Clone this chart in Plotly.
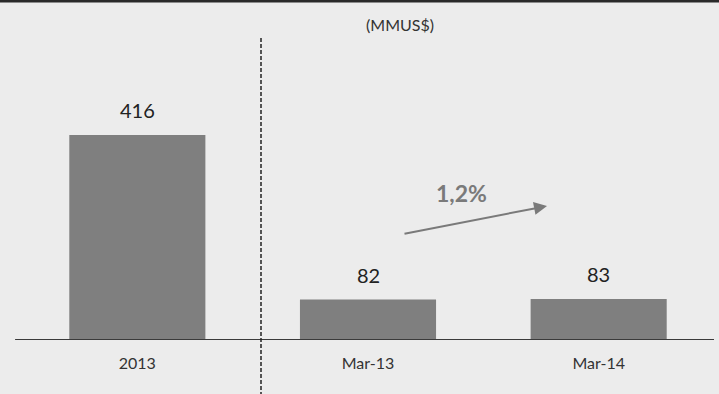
import plotly.graph_objects as go

categories = ["2013", "Mar-13", "Mar-14"]
values = [416, 82, 83]
value_labels = ["416", "82", "83"]
unit_title = "(MMUS$)"
growth_label = "1,2%"

BAR = "#7f7f7f"
BG = "#ececec"
FONT = "Lato, 'Open Sans', sans-serif"

L, R, T, B = 22, 5, 40, 54
PW = 719 - L - R
PH = 394 - T - B
YMAX = 608.8


def px_to_x(px):
    return (px - L) / PW * 3 - 0.5


def py_to_y(py):
    return (394 - B - py) / PH * YMAX


fig = go.Figure()
fig.add_trace(go.Bar(
    x=list(range(len(categories))), y=values,
    marker=dict(color=BAR, line=dict(width=0)),
    width=0.59,
    hoverinfo="skip",
))

label_annotations = [
    dict(text=t, x=i, y=v, xref="x", yref="y", showarrow=False,
         yanchor="middle", yshift=25,
         font=dict(family=FONT, size=20, color="#222222"))
    for i, (v, t) in enumerate(zip(values, value_labels))
]

fig.update_layout(
    width=719, height=394,
    margin=dict(l=L, r=R, t=T, b=B, autoexpand=False),
    paper_bgcolor=BG, plot_bgcolor=BG,
    showlegend=False,
    xaxis=dict(
        range=[-0.5, 2.5], tickmode="array",
        tickvals=list(range(len(categories))), ticktext=categories,
        showgrid=False, zeroline=False, showline=False, ticks="",
        tickfont=dict(family=FONT, size=16, color="#333333"),
        ticklabelstandoff=12, automargin=False,
    ),
    yaxis=dict(range=[0, YMAX], visible=False, automargin=False),
    shapes=[
        dict(type="line", xref="paper", yref="y", x0=-0.01, x1=1.0, y0=0, y1=0,
             line=dict(color="#3a3a3a", width=2)),
        dict(type="line", xref="x", yref="paper", x0=px_to_x(261), x1=px_to_x(261),
             y0=(394 - B - 38) / PH, y1=-0.2,
             line=dict(color="#222222", width=1.5, dash="4px,2px")),
        dict(type="line", xref="paper", yref="paper", x0=-0.04, x1=1.01,
             y0=(394 - B - 1) / PH, y1=(394 - B - 1) / PH,
             line=dict(color="#2a2a2a", width=3)),
    ],
    annotations=label_annotations + [
        dict(text=unit_title, xref="paper", yref="paper", x=(400 - L) / PW, y=(394 - B - 24) / PH,
             xanchor="center", yanchor="middle",
             showarrow=False, font=dict(family=FONT, size=16, color="#333333")),
        dict(text="<b>" + growth_label + "</b>", xref="x", yref="y",
             x=px_to_x(461), y=py_to_y(193), xanchor="center", yanchor="middle",
             showarrow=False, font=dict(family=FONT, size=23, color="#7a7a7a")),
        dict(text="", xref="x", yref="y", axref="x", ayref="y",
             x=px_to_x(547), y=py_to_y(206),
             ax=px_to_x(403), ay=py_to_y(234),
             showarrow=True, arrowhead=2, arrowsize=1.3, arrowwidth=2, arrowcolor="#7a7a7a"),
    ],
)

fig.write_html(
    "out.html",
    config={"displayModeBar": False},
    post_script="document.body.style.margin='0';document.body.style.overflow='hidden';"
                "document.body.style.background='" + BG + "';",
)
